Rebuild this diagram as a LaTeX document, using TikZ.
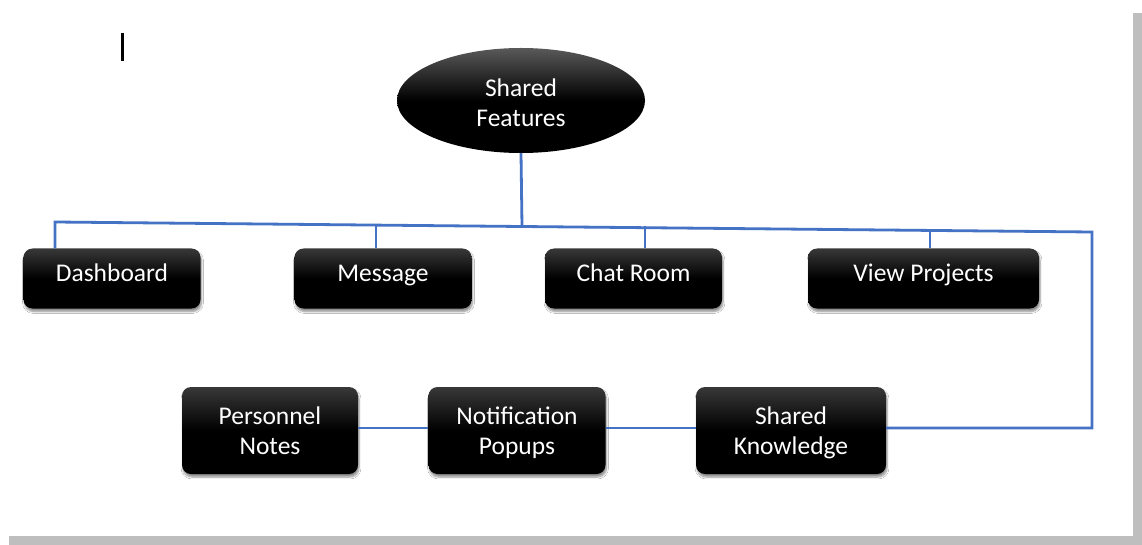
\documentclass[tikz,border=0pt]{standalone}
\usepackage{fontspec}
\setmainfont{Carlito}
\usetikzlibrary{shapes.geometric,shadows.blur}

\definecolor{linkblue}{RGB}{68,114,196}
\definecolor{pageshade}{RGB}{190,190,190}

\tikzset{
  featbox/.style={rectangle, rounded corners=9pt, draw=none,
    shading=axis, top color=black!78, bottom color=black, middle color=black,
    blur shadow={shadow xshift=1pt, shadow yshift=-3pt, shadow blur steps=6, shadow opacity=45},
    text=white, font=\fontsize{25.5}{30}\selectfont, align=center,
    inner sep=0pt, minimum height=60pt},
  oneline/.style={text height=17pt, text depth=12pt},
  twoline/.style={minimum height=87pt, text height=54pt, text depth=6pt},
  rootnode/.style={ellipse, draw=none,
    shading=axis, top color=black!65, bottom color=black, middle color=black,
    text=white, font=\fontsize{25.5}{30}\selectfont, align=center,
    inner sep=0pt, minimum width=248pt, minimum height=105pt,
    text height=58pt, text depth=6pt},
  link/.style={draw=linkblue, line width=2.8pt, line join=miter}
}

\begin{document}
\begin{tikzpicture}[x=1pt,y=-1pt]
  \useasboundingbox (0,0) rectangle (1142,545);
  \fill[white] (0,0) rectangle (1142,545);
  % page shadow along the right and bottom edges
  \fill[pageshade] (1133,13) rectangle (1142,545);
  \fill[pageshade] (9,536) rectangle (1142,545);

  % text cursor
  \draw[line width=3pt] (122,33) -- (122,61);

  % root
  \node[rootnode] (root) at (521,100.5) {Shared\\Features};

  % first row
  \node[featbox, oneline, minimum width=177pt] (dash) at (112,278.5) {Dashboard};
  \node[featbox, oneline, minimum width=177pt] (msg)  at (383,278.5) {Message};
  \node[featbox, oneline, minimum width=177pt] (chat) at (633.5,278.5) {Chat Room};
  \node[featbox, oneline, minimum width=231pt] (view) at (923.5,278.5) {View Projects};

  % second row
  \node[featbox, twoline, minimum width=176pt] (pers)  at (270,430.5) {Personnel\\Notes};
  \node[featbox, twoline, minimum width=177pt] (notif) at (517,430.5) {Notification\\Popups};
  \node[featbox, twoline, minimum width=190pt] (know)  at (791,430.5) {Shared\\Knowledge};

  % bus line and its junctions
  \coordinate (busL) at (55,222);
  \coordinate (busR) at (1092,232);
  \coordinate (jroot) at (522,226.5);
  \coordinate (jmsg)  at (376,224.5);
  \coordinate (jchat) at (645,226);
  \coordinate (jview) at (930,230.4);
  \coordinate (row2) at (0,428);

  \draw[link] (busL |- dash.north) -- (busL) -- (busR) -- (busR |- row2) -- (know.east |- row2);
  \draw[link] (root.south) -- (jroot);
  \draw[link] (jmsg) -- (jmsg |- msg.north);
  \draw[link] (jchat) -- (jchat |- chat.north);
  \draw[link] (jview) -- (jview |- view.north);
  \draw[link] (pers.east |- row2) -- (notif.west |- row2);
  \draw[link] (notif.east |- row2) -- (know.west |- row2);
\end{tikzpicture}
\end{document}
